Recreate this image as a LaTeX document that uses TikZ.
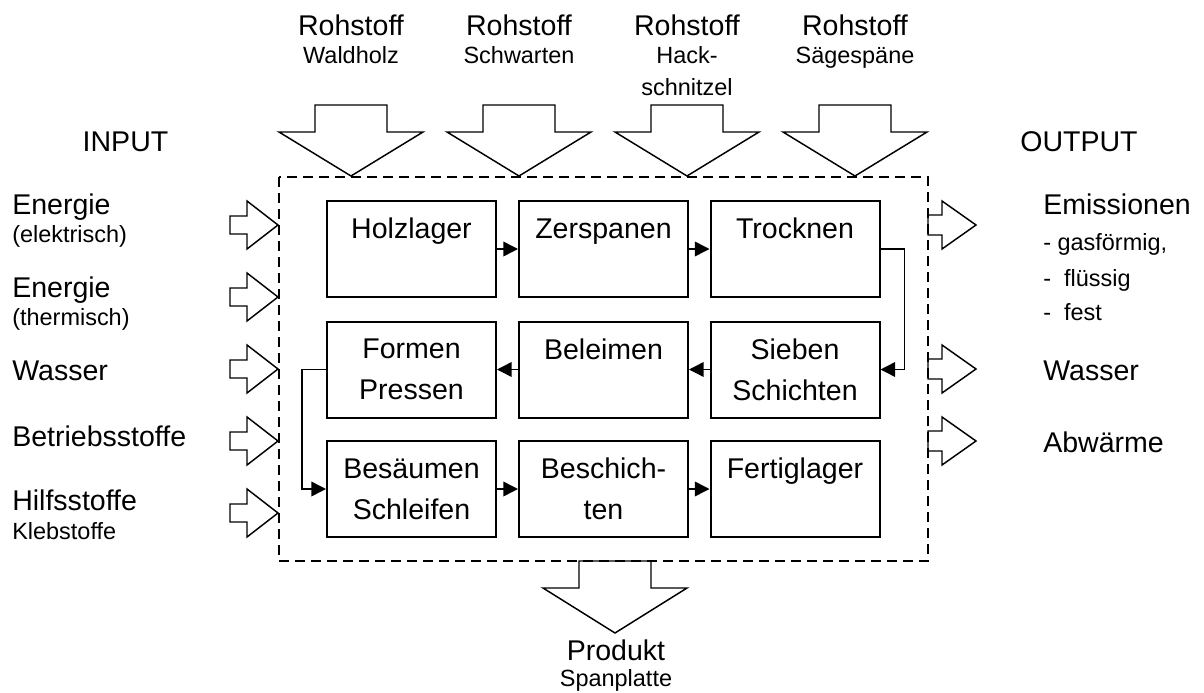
\documentclass[tikz,border=0pt]{standalone}
\usepackage{fontspec}
\setmainfont{Liberation Sans}
\usetikzlibrary{arrows.meta}

\tikzset{
  stufe/.style={draw, line width=1.5pt, minimum width=126.75pt, minimum height=72pt, inner sep=0pt, align=center, font=\fontsize{21.4}{30.75}\selectfont},
  fluss/.style={line width=1.1pt, -{Triangle[length=11pt,width=11pt]}},
  blockpfeil/.style={line width=1.1pt, line join=miter},
  gross/.style={font=\fontsize{21.4}{25}\selectfont, inner sep=0pt},
  klein/.style={font=\fontsize{17.6}{21}\selectfont, inner sep=0pt},
}

\begin{document}
\begin{tikzpicture}[x=0.75pt,y=0.75pt,yscale=-1,xscale=1]
    \useasboundingbox (0,0) rectangle (1204,693); %set diagram at full size

    %Shape: Systemgrenze (dashed)
    \draw [line width=1.1pt, dash pattern=on 7.5pt off 4.5pt] (279,177) rectangle (928,561);

    %Shape: Rohstoff arrows
    \foreach \t in {351,519,687,855}
      \draw [blockpfeil] (\t-36,105) -- (\t+36,105) -- (\t+36,132) -- (\t+72,132) -- (\t,176) -- (\t-72,132) -- (\t-36,132) -- cycle ;
    %Shape: Produkt arrow
    \draw [blockpfeil] (579,561) -- (651,561) -- (651,588) -- (687,588) -- (615,633) -- (543,588) -- (579,588) -- cycle ;
    %Shape: Input arrows
    \foreach \y in {225,297,369,441,513}
      \draw [blockpfeil] (230,\y-9) -- (247,\y-9) -- (247,\y-24) -- (278,\y) -- (247,\y+24) -- (247,\y+9) -- (230,\y+9) -- cycle ;
    %Shape: Output arrows
    \foreach \y in {225,369,441}
      \draw [blockpfeil] (928,\y-10) -- (942,\y-10) -- (942,\y-24) -- (976,\y) -- (942,\y+24) -- (942,\y+10) -- (928,\y+10) -- cycle ;

    % Process steps
    \node [stufe] (holz) at (411.5,249) {Holzlager\\~};
    \node [stufe] (zersp) at (603.5,249) {Zerspanen\\~};
    \node [stufe] (trock) at (795,249) {Trocknen\\~};
    \node [stufe] (formen) at (411.5,369.5) {Formen\\Pressen};
    \node [stufe] (beleim) at (603.5,369.5) {Beleimen\\~};
    \node [stufe] (sieb) at (795,369.5) {Sieben\\Schichten};
    \node [stufe] (besae) at (411.5,489) {Besäumen\\Schleifen};
    \node [stufe] (beschi) at (603.5,489) {Beschich-\\ten};
    \node [stufe] (fertig) at (795,489) {Fertiglager\\~};

    % Flow
    \draw [fluss] (holz) -- (zersp) ;
    \draw [fluss] (zersp) -- (trock) ;
    \draw [fluss] (trock.east) -- ++(24,0) |- (sieb.east) ;
    \draw [fluss] (sieb) -- (beleim) ;
    \draw [fluss] (beleim) -- (formen) ;
    \draw [fluss] (formen.west) -- ++(-24,0) |- (besae.west) ;
    \draw [fluss] (besae) -- (beschi) ;
    \draw [fluss] (beschi) -- (fertig) ;

    % Text Node
    \node [gross, anchor=base] (input) at (125.5,151) {INPUT};
    \node [gross, anchor=base] (output) at (1079,151) {OUTPUT};
    % Text Node
    \foreach \t/\sub/\n in {351/Waldholz/a, 519/Schwarten/b, 687/Hack-/c, 855/Sägespäne/d} {
      \node [gross, anchor=base] (roh\n) at (\t,35) {Rohstoff};
      \node [klein, anchor=base] (sub\n) at (\t,63) {\sub};
    }
    \node [klein, anchor=base] (subc2) at (687,95) {schnitzel};
    % Text Node
    \node [gross, anchor=base west] (energie1) at (12,214) {Energie};
    \node [klein, anchor=base west] (elektr) at (12,242) {(elektrisch)};
    \node [gross, anchor=base west] (energie2) at (12,297) {Energie};
    \node [klein, anchor=base west] (therm) at (12,325) {(thermisch)};
    \node [gross, anchor=base west] (wasserin) at (12,380) {Wasser};
    \node [gross, anchor=base west] (betrieb) at (12,446) {Betriebsstoffe};
    \node [gross, anchor=base west] (hilfs) at (12,510) {Hilfsstoffe};
    \node [klein, anchor=base west] (kleb) at (12,539) {Klebstoffe};
    % Text Node
    \node [gross, anchor=base west] (emiss) at (1043,214) {Emissionen};
    \node [klein, anchor=base west] (gas) at (1043,250) {- gasförmig,};
    \node [klein, anchor=base west] (fluessig) at (1043,286) {-~ flüssig};
    \node [klein, anchor=base west] (fest) at (1043,320) {-~ fest};
    \node [gross, anchor=base west] (wasserout) at (1043,380) {Wasser};
    \node [gross, anchor=base west] (abw) at (1043,452) {Abwärme};
    % Text Node
    \node [gross, anchor=base] (produkt) at (616,660) {Produkt};
    \node [klein, anchor=base] (span) at (616,686) {Spanplatte};

\end{tikzpicture}
\end{document}
